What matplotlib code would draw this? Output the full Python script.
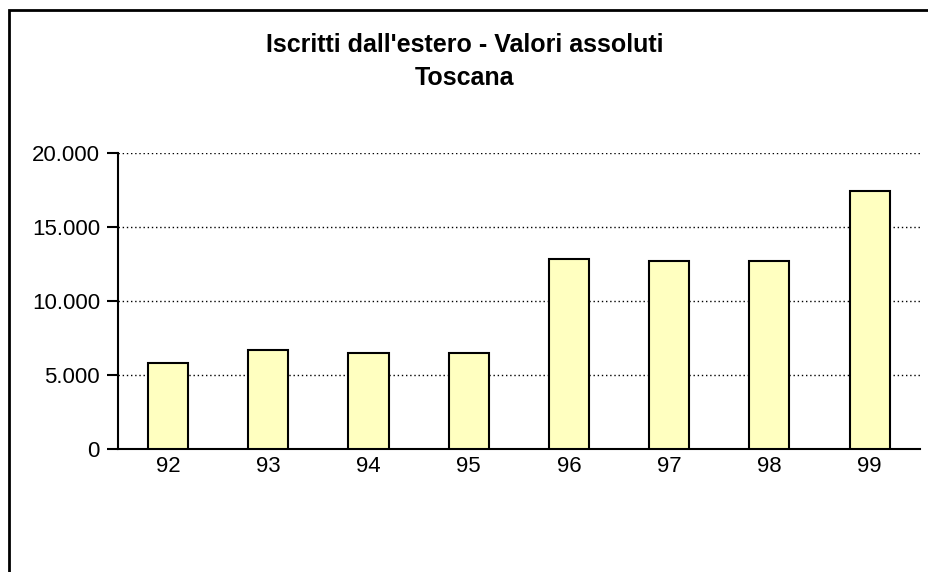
import matplotlib
matplotlib.use("Agg")
import matplotlib.pyplot as plt
from matplotlib.patches import Rectangle
from matplotlib.ticker import FuncFormatter

plt.rcParams['font.family'] = ['Liberation Sans', 'DejaVu Sans']

# dati
anni = ['92', '93', '94', '95', '96', '97', '98', '99']
iscritti = [5790, 6710, 6470, 6470, 12820, 12680, 12680, 17410]

fig = plt.figure(figsize=(9.29, 5.72), dpi=100)
ax = fig.add_axes([0.127, 0.215, 0.863, 0.5175])

x = range(len(anni))
ax.bar(x, iscritti, width=0.4, color='#FFFFC0', edgecolor='black', linewidth=1.5, zorder=3)

ax.set_xlim(-0.5, len(anni) - 0.5)
ax.set_ylim(0, 20000)
ax.set_yticks([0, 5000, 10000, 15000, 20000])
ax.yaxis.set_major_formatter(FuncFormatter(lambda v, p: f"{int(v):,}".replace(",", ".")))
ax.set_xticks(list(x))
ax.set_xticklabels(anni)

ax.grid(axis='y', color='black', linestyle=(0, (1, 2)), linewidth=1, zorder=0)
for s in ['top', 'right']:
    ax.spines[s].set_visible(False)
ax.spines['left'].set_linewidth(1.5)
ax.spines['bottom'].set_linewidth(1.5)
ax.tick_params(axis='y', length=8, width=1.5, labelsize=16, pad=5)
ax.tick_params(axis='x', length=0, labelsize=16, pad=5)

fig.text(0.5, 0.921, "Iscritti dall'estero - Valori assoluti", ha='center', va='center',
         fontsize=18, fontweight='bold')
fig.text(0.5, 0.864, "Toscana", ha='center', va='center', fontsize=18, fontweight='bold')

# cornice
fig.patches.append(Rectangle((8.5 / 929, -0.1), 1.2, 1 - 9.5 / 572 + 0.1, transform=fig.transFigure,
                             fill=False, edgecolor='black', linewidth=2))

fig.savefig('out.png', dpi=100)
